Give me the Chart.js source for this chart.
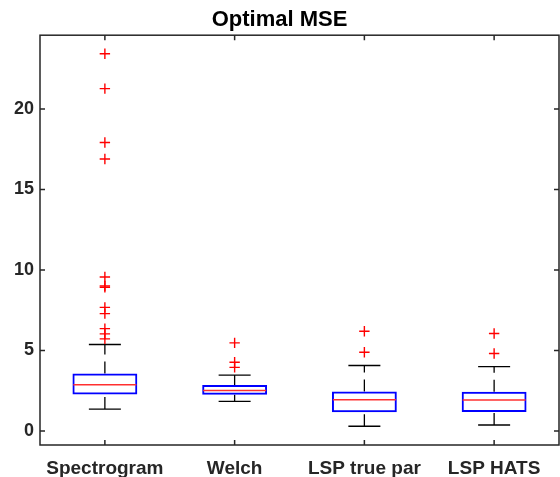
<!DOCTYPE html>
<html>
<head>
<meta charset="utf-8">
<script src="https://cdn.jsdelivr.net/npm/chart.js@4.4.1/dist/chart.umd.min.js"></script>
<style>
  html, body { margin: 0; padding: 0; background: #ffffff; }
  #wrap { width: 560px; height: 477px; }
</style>
</head>
<body>
<div id="wrap"><canvas id="c" width="560" height="477"></canvas></div>
<script>
const categories = ['Spectrogram', 'Welch', 'LSP true par', 'LSP HATS'];
const q1 = [2.27, 2.25, 1.16, 1.18];
const median = [2.87, 2.52, 1.94, 1.92];
const q3 = [3.57, 2.85, 2.46, 2.44];
const whiskerLow = [1.36, 1.84, 0.29, 0.37];
const whiskerHigh = [5.37, 3.47, 4.07, 4.00];
const outliersSpectrogram = [23.43, 21.26, 17.92, 16.89, 9.56, 9.0, 8.92, 7.68, 7.29, 6.36, 6.03, 5.72];
const outliersWelch = [5.47, 4.27, 3.95];
const outliersLspTrue = [6.19, 4.89];
const outliersLspHats = [6.05, 4.81];
const yTicks = [0, 5, 10, 15, 20];
const yMin = -0.87;
const yMax = 24.58;

const FONT = "'Liberation Sans', Arial, Helvetica, sans-serif";
const AXIS_COLOR = '#262626';

const outlierLists = [outliersSpectrogram, outliersWelch, outliersLspTrue, outliersLspHats];
const outlierPoints = [];
outlierLists.forEach((list, i) => list.forEach(v => outlierPoints.push({ x: categories[i], y: v })));

const whiskerDatasets = [];
categories.forEach((c, i) => {
  whiskerDatasets.push({
    type: 'line',
    data: [{ x: c, y: q3[i] }, { x: c, y: whiskerHigh[i] }],
    borderColor: '#000000', borderWidth: 1.3, borderDash: [12, 7],
    pointRadius: 0, fill: false, tension: 0
  });
  whiskerDatasets.push({
    type: 'line',
    data: [{ x: c, y: whiskerLow[i] }, { x: c, y: q1[i] }],
    borderColor: '#000000', borderWidth: 1.3, borderDash: [12, 7],
    pointRadius: 0, fill: false, tension: 0
  });
});

const framePlugin = {
  id: 'frame',
  afterDraw(chart) {
    const { ctx, chartArea: a, scales: { x, y } } = chart;
    ctx.save();
    ctx.strokeStyle = AXIS_COLOR;
    ctx.lineWidth = 1.5;
    ctx.strokeRect(a.left, a.top, a.right - a.left, a.bottom - a.top);
    ctx.beginPath();
    const tl = 5;
    yTicks.forEach(v => {
      const p = y.getPixelForValue(v);
      ctx.moveTo(a.left, p); ctx.lineTo(a.left + tl, p);
      ctx.moveTo(a.right, p); ctx.lineTo(a.right - tl, p);
    });
    categories.forEach((c, i) => {
      const p = x.getPixelForValue(i);
      ctx.moveTo(p, a.bottom); ctx.lineTo(p, a.bottom - tl);
      ctx.moveTo(p, a.top); ctx.lineTo(p, a.top + tl);
    });
    ctx.stroke();
    ctx.restore();
  }
};

new Chart(document.getElementById('c'), {
  type: 'bar',
  data: {
    labels: categories,
    datasets: [
      {
        type: 'scatter',
        data: outlierPoints,
        pointStyle: 'cross', pointRadius: 5.2,
        pointBorderColor: '#ff0000', pointBackgroundColor: '#ff0000', pointBorderWidth: 1.4
      },
      {
        type: 'scatter',
        data: categories.map((c, i) => ({ x: c, y: median[i] })),
        pointStyle: 'line', pointRadius: 31.5,
        pointBorderColor: '#ff3030', pointBorderWidth: 1.5
      },
      {
        type: 'scatter',
        data: categories.map((c, i) => ({ x: c, y: whiskerHigh[i] })),
        pointStyle: 'line', pointRadius: 16,
        pointBorderColor: '#000000', pointBorderWidth: 1.4
      },
      {
        type: 'scatter',
        data: categories.map((c, i) => ({ x: c, y: whiskerLow[i] })),
        pointStyle: 'line', pointRadius: 16,
        pointBorderColor: '#000000', pointBorderWidth: 1.4
      },
      {
        type: 'bar',
        data: categories.map((c, i) => [q1[i], q3[i]]),
        backgroundColor: 'rgba(0,0,0,0)',
        borderColor: '#0000ff', borderWidth: 2, borderSkipped: false,
        barPercentage: 0.5, categoryPercentage: 1
      },
      ...whiskerDatasets
    ]
  },
  options: {
    responsive: false,
    animation: false,
    layout: { autoPadding: false, padding: { left: 0, right: 1, top: 0, bottom: 0 } },
    plugins: {
      legend: { display: false },
      tooltip: { enabled: false },
      title: {
        display: true,
        text: 'Optimal MSE',
        color: '#000000',
        font: { family: FONT, size: 22, weight: 'bold', lineHeight: 1.1 },
        padding: { top: 8, bottom: 3 }
      }
    },
    scales: {
      x: {
        type: 'category',
        offset: true,
        grid: { display: false, drawTicks: false },
        border: { display: false },
        ticks: { color: AXIS_COLOR, padding: 12, font: { family: FONT, size: 19, weight: 'bold' }, maxRotation: 0, autoSkip: false },
        afterFit(scale) { scale.height = 32; scale.paddingLeft = 0; scale.paddingRight = 0; }
      },
      y: {
        type: 'linear',
        min: yMin, max: yMax,
        grid: { display: false, drawTicks: false },
        border: { display: false },
        afterBuildTicks(scale) { scale.ticks = yTicks.map(v => ({ value: v })); },
        ticks: { color: AXIS_COLOR, padding: 6, font: { family: FONT, size: 18, weight: 'bold' } },
        afterFit(scale) { scale.width = 40; scale.paddingTop = 0; scale.paddingBottom = 0; }
      }
    }
  },
  plugins: [framePlugin]
});
</script>
</body>
</html>
